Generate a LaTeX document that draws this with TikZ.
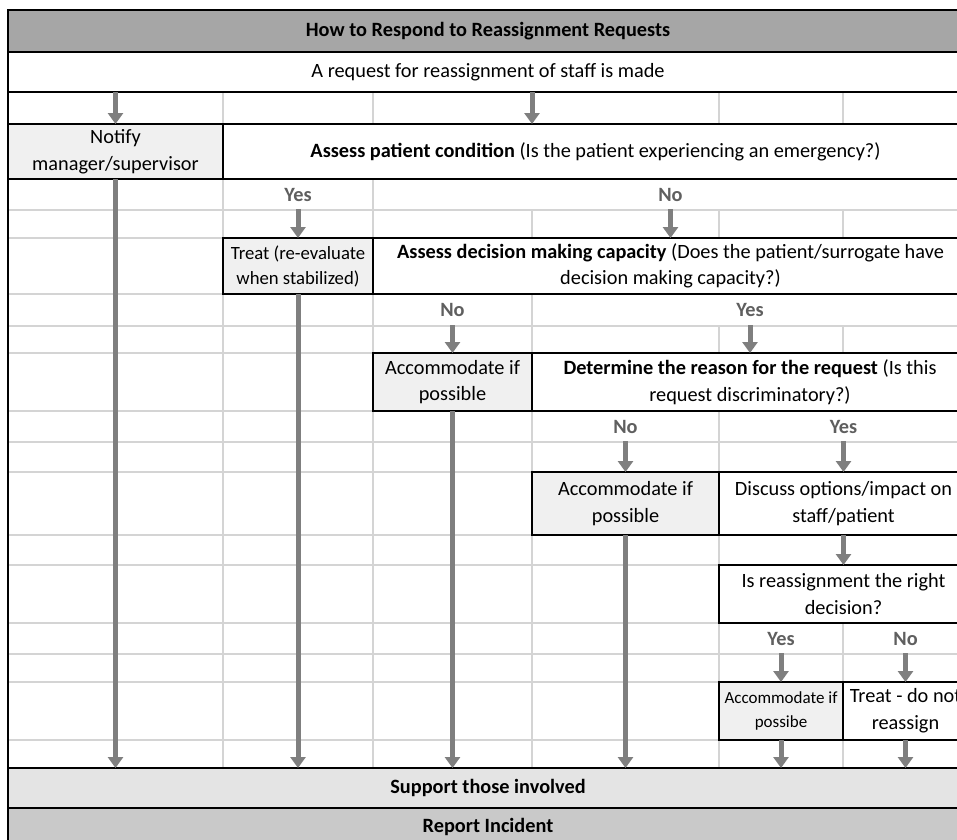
\documentclass[tikz,border=0pt]{standalone}
\usepackage{fontspec}
\setmainfont{Carlito}
\usetikzlibrary{arrows.meta}
\definecolor{gridc}{HTML}{D4D4D4}
\definecolor{titlec}{HTML}{A6A6A6}
\definecolor{suppc}{HTML}{E4E4E4}
\definecolor{repc}{HTML}{C9C9C9}
\definecolor{boxgray}{HTML}{F0F0F0}
\definecolor{arrc}{HTML}{7F7F7F}
\definecolor{labc}{HTML}{5F5F5F}
\tikzset{
  base/.style={inner sep=0pt, outer sep=0pt, align=center, text=black,
    font=\fontsize{20.3}{26.5}\selectfont},
  cell/.style={base, draw=black, line width=1.2pt},
  hl/.style={cell, fill=boxgray},
  wh/.style={cell, fill=white},
  lab/.style={base, fill=white, text=labc, font=\fontsize{20.3}{26.5}\selectfont\bfseries},
  arr/.style={draw=arrc, line width=5pt, -{Triangle[width=15pt,length=11pt]}},
  gridl/.style={draw=gridc, line width=1.1pt},
}
\begin{document}
\begin{tikzpicture}[x=1pt,y=-1pt]
\useasboundingbox (0,0) rectangle (957,839);
\clip (0,0) rectangle (957,839);
\fill[white] (0,0) rectangle (957,839);
% grid
\foreach \gx in {223,373,532,719,843} \draw[gridl] (\gx,92) -- (\gx,768);
\foreach \gy in {124,179,210,238,294,326,353,411,442,472,535,565,623,654,682,740} \draw[gridl] (8,\gy) -- (968,\gy);
% boxes
\node[cell, fill=titlec, minimum width=960pt, minimum height=42pt, font=\fontsize{20.3}{26.5}\selectfont\bfseries] (title) at (488,31) {How to Respond to Reassignment Requests};
\node[wh, minimum width=960pt, minimum height=40pt] (request) at (488,72) {A request for reassignment of staff is made};
\node[hl, minimum width=215pt, minimum height=55pt] (notify) at (115.5,151.5) {Notify\\manager/supervisor};
\node[wh, minimum width=745pt, minimum height=55pt] (assess1) at (595.5,151.5) {\textbf{Assess patient condition} (Is the patient experiencing an emergency?)};
\node[lab, minimum width=148.4pt, minimum height=29.4pt] (yes1) at (298,194.5) {Yes};
\node[lab, minimum width=593.4pt, minimum height=29.4pt] (no1) at (670.5,194.5) {No};
\node[hl, minimum width=150pt, minimum height=56pt, font=\fontsize{18.7}{25}\selectfont] (treat) at (298,266) {Treat (re-evaluate\\when stabilized)};
\node[wh, minimum width=595pt, minimum height=56pt] (assess2) at (670.5,266) {\textbf{Assess decision making capacity} (Does the patient/surrogate have\\decision making capacity?)};
\node[lab, minimum width=157.4pt, minimum height=30.4pt] (no2) at (452.5,310) {No};
\node[lab, minimum width=434.4pt, minimum height=30.4pt] (yes2) at (750,310) {Yes};
\node[hl, minimum width=159pt, minimum height=58pt] (acc1) at (452.5,382) {Accommodate if\\possible};
\node[wh, minimum width=436pt, minimum height=58pt] (determine) at (750,382) {\textbf{Determine the reason for the request} (Is this\\request discriminatory?)};
\node[lab, minimum width=185.4pt, minimum height=29.4pt] (no3) at (625.5,426.5) {No};
\node[lab, minimum width=247.4pt, minimum height=29.4pt] (yes3) at (843.5,426.5) {Yes};
\node[hl, minimum width=187pt, minimum height=63pt] (acc2) at (625.5,503.5) {Accommodate if\\possible};
\node[wh, minimum width=249pt, minimum height=63pt] (discuss) at (843.5,503.5) {Discuss options/impact on\\staff/patient};
\node[wh, minimum width=249pt, minimum height=58pt] (isreas) at (843.5,594) {Is reassignment the right\\decision?};
\node[lab, minimum width=122.4pt, minimum height=29.4pt] (yes4) at (781,638.5) {Yes};
\node[lab, minimum width=123.4pt, minimum height=29.4pt] (no4) at (905.5,638.5) {No};
\node[hl, minimum width=124pt, minimum height=58pt, font=\fontsize{17}{24}\selectfont] (acc3) at (781,711) {Accommodate if\\possibe};
\node[wh, minimum width=125pt, minimum height=58pt, font=\fontsize{20.3}{27}\selectfont] (treatno) at (905.5,711) {Treat - do not\\reassign};
\node[cell, fill=suppc, minimum width=960pt, minimum height=40pt, font=\fontsize{20.3}{26.5}\selectfont\bfseries] (support) at (488,788) {Support those involved};
\node[cell, fill=repc, minimum width=960pt, minimum height=38pt, font=\fontsize{20.3}{26.5}\selectfont\bfseries] (report) at (488,827) {Report Incident};
% arrows
\coordinate (cd) at (532,0);
\draw[arr] (request.south -| notify.north) -- (notify.north);
\draw[arr] (request.south -| cd) -- (assess1.north -| cd);
\draw[arr] (notify.south) -- (notify.south |- support.north);
\draw[arr] (yes1.south) -- (treat.north);
\draw[arr] (no1.south) -- (assess2.north);
\draw[arr] (treat.south) -- (treat.south |- support.north);
\draw[arr] (no2.south) -- (acc1.north);
\draw[arr] (yes2.south) -- (determine.north);
\draw[arr] (acc1.south) -- (acc1.south |- support.north);
\draw[arr] (no3.south) -- (acc2.north);
\draw[arr] (yes3.south) -- (discuss.north);
\draw[arr] (acc2.south) -- (acc2.south |- support.north);
\draw[arr] (discuss.south) -- (isreas.north);
\draw[arr] (yes4.south) -- (acc3.north);
\draw[arr] (no4.south) -- (treatno.north);
\draw[arr] (acc3.south) -- (acc3.south |- support.north);
\draw[arr] (treatno.south) -- (treatno.south |- support.north);
% outer frame
\draw[line width=2pt] (8,846) -- (8,10) -- (968,10);
\end{tikzpicture}
\end{document}
